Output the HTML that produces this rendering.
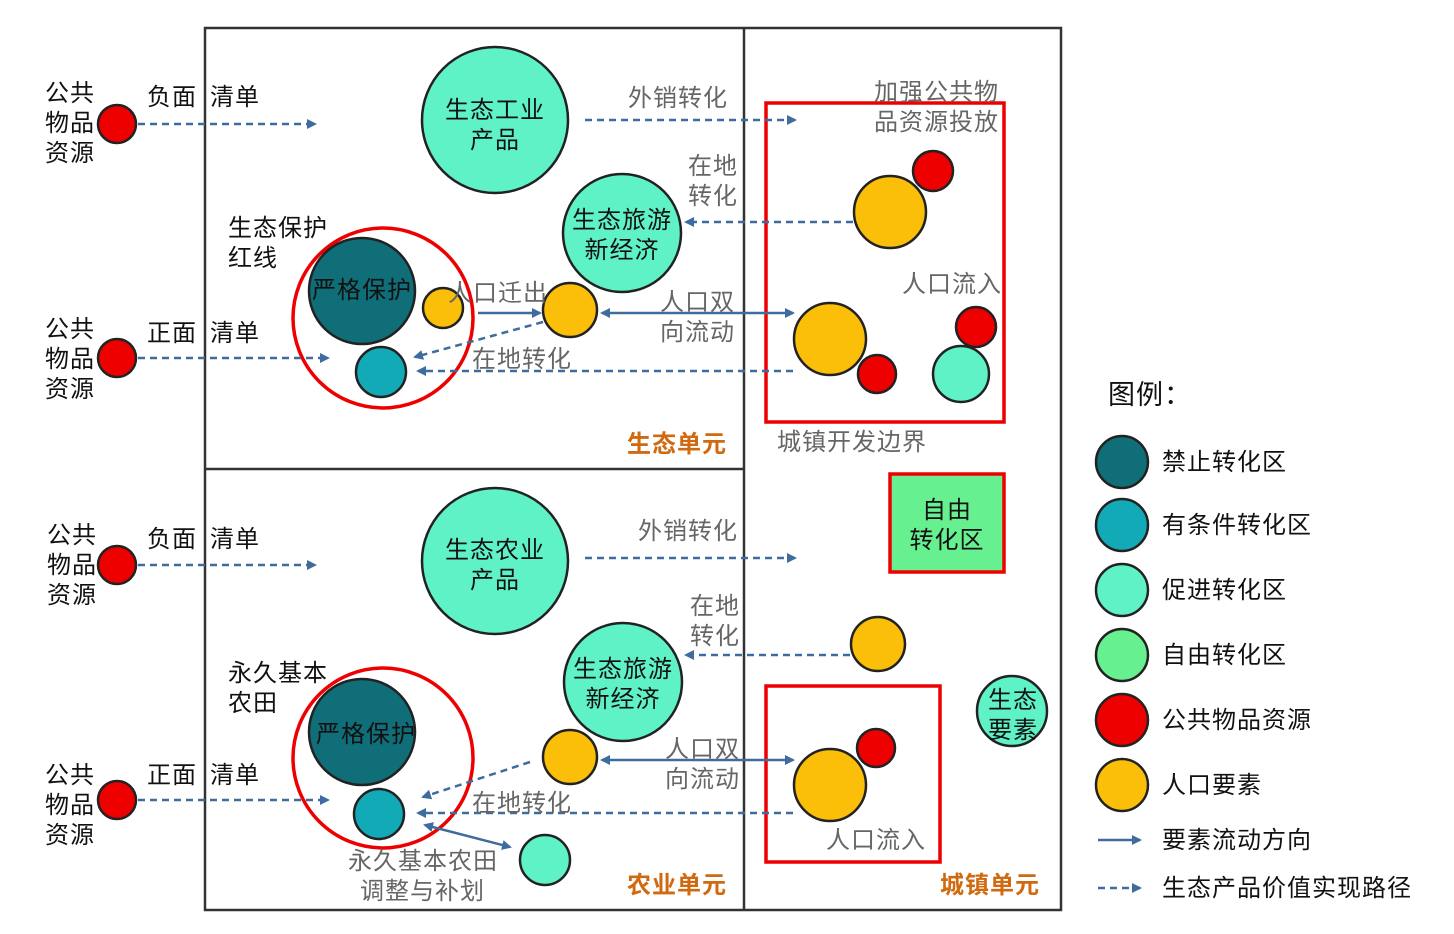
<!DOCTYPE html>
<html><head><meta charset="utf-8"><style>
body{margin:0;background:#fff}
svg{display:block}
text{font-family:"Liberation Sans","Noto Sans CJK SC",sans-serif;font-size:24px;letter-spacing:1px}
</style></head><body>
<svg width="1454" height="934" viewBox="0 0 1454 934">
<defs>
<marker id="a" markerWidth="10" markerHeight="10" refX="8" refY="5" orient="auto" markerUnits="userSpaceOnUse"><path d="M0,0 L10,5 L0,10 z" fill="#3f6c9e"/></marker>
<marker id="b" markerWidth="10" markerHeight="10" refX="2" refY="5" orient="auto" markerUnits="userSpaceOnUse"><path d="M10,0 L0,5 L10,10 z" fill="#3f6c9e"/></marker>
</defs>
<g fill="none" stroke="#333" stroke-width="2.5">
<rect x="205" y="28" width="856" height="882"/>
<line x1="744" y1="28" x2="744" y2="910"/>
<line x1="205" y1="469" x2="744" y2="469"/>
</g>
<g fill="none" stroke="#ee0000" stroke-width="3.5">
<rect x="766" y="103" width="238" height="319"/>
<rect x="766" y="686" width="174" height="176"/>
<circle cx="383" cy="318" r="90"/>
<circle cx="383" cy="758" r="90"/>
</g>
<rect x="890" y="474" width="114" height="98" fill="#66f08f" stroke="#ee0000" stroke-width="3.5"/>
<g stroke="#222" stroke-width="2.5">
<circle cx="495" cy="120" r="73" fill="#5ef2c6"/>
<circle cx="622" cy="233" r="59" fill="#5ef2c6"/>
<circle cx="362" cy="291" r="53" fill="#0f6e78"/>
<circle cx="443" cy="308" r="20" fill="#fbbf0a"/>
<circle cx="570" cy="310" r="27" fill="#fbbf0a"/>
<circle cx="381" cy="372" r="25" fill="#13aab8"/>
<circle cx="890" cy="212" r="36" fill="#fbbf0a"/>
<circle cx="933" cy="171" r="20" fill="#ee0000"/>
<circle cx="830" cy="339" r="36" fill="#fbbf0a"/>
<circle cx="877" cy="374" r="19" fill="#ee0000"/>
<circle cx="976" cy="327" r="20" fill="#ee0000"/>
<circle cx="961" cy="374" r="28" fill="#5ef2c6"/>
<circle cx="495" cy="561" r="73" fill="#5ef2c6"/>
<circle cx="623" cy="682" r="59" fill="#5ef2c6"/>
<circle cx="362" cy="732" r="53" fill="#0f6e78"/>
<circle cx="570" cy="757" r="27" fill="#fbbf0a"/>
<circle cx="379" cy="814" r="25" fill="#13aab8"/>
<circle cx="545" cy="860" r="25" fill="#5ef2c6"/>
<circle cx="878" cy="644" r="27" fill="#fbbf0a"/>
<circle cx="1012" cy="711" r="35" fill="#5ef2c6"/>
<circle cx="830" cy="785" r="36" fill="#fbbf0a"/>
<circle cx="876" cy="748" r="19" fill="#ee0000"/>
<circle cx="117" cy="124" r="19" fill="#ee0000"/>
<circle cx="117" cy="358" r="19" fill="#ee0000"/>
<circle cx="117" cy="565" r="19" fill="#ee0000"/>
<circle cx="117" cy="800" r="19" fill="#ee0000"/>
<circle cx="1122" cy="462" r="26" fill="#0f6e78"/>
<circle cx="1122" cy="525" r="26" fill="#13aab8"/>
<circle cx="1122" cy="590" r="26" fill="#5ef2c6"/>
<circle cx="1122" cy="655" r="26" fill="#66f08f"/>
<circle cx="1122" cy="720" r="26" fill="#ee0000"/>
<circle cx="1122" cy="785" r="26" fill="#fbbf0a"/>
</g>
<g stroke="#3f6c9e" stroke-width="2.5" fill="none">
<g stroke-dasharray="7,5" marker-end="url(#a)">
<line x1="138" y1="124" x2="315" y2="124"/>
<line x1="138" y1="358" x2="328" y2="358"/>
<line x1="138" y1="565" x2="315" y2="565"/>
<line x1="138" y1="800" x2="328" y2="800"/>
<line x1="585" y1="120" x2="795" y2="120"/>
<line x1="853" y1="222" x2="686" y2="222"/>
<line x1="543" y1="322" x2="415" y2="357"/>
<line x1="793" y1="371" x2="418" y2="371"/>
<line x1="585" y1="558" x2="795" y2="558"/>
<line x1="850" y1="655" x2="686" y2="655"/>
<line x1="530" y1="762" x2="423" y2="797"/>
<line x1="793" y1="813" x2="418" y2="813"/>
<line x1="1098" y1="888" x2="1140" y2="888"/>
</g>
<line x1="478" y1="313" x2="540" y2="313" marker-end="url(#a)"/>
<line x1="602" y1="313" x2="793" y2="313" marker-start="url(#b)" marker-end="url(#a)"/>
<line x1="602" y1="760" x2="793" y2="760" marker-start="url(#b)" marker-end="url(#a)"/>
<line x1="425" y1="825" x2="510" y2="847" marker-start="url(#b)" marker-end="url(#a)"/>
<line x1="1098" y1="840" x2="1140" y2="840" marker-end="url(#a)"/>
</g>
<g fill="#111">
<text x="45" y="101">公共</text><text x="45" y="131">物品</text><text x="45" y="161">资源</text>
<text x="45" y="337">公共</text><text x="45" y="367">物品</text><text x="45" y="397">资源</text>
<text x="47" y="543">公共</text><text x="47" y="573">物品</text><text x="47" y="603">资源</text>
<text x="45" y="783">公共</text><text x="45" y="813">物品</text><text x="45" y="843">资源</text>
<text x="147" y="105">负面</text><text x="210" y="105">清单</text>
<text x="147" y="341">正面</text><text x="210" y="341">清单</text>
<text x="147" y="547">负面</text><text x="210" y="547">清单</text>
<text x="147" y="783">正面</text><text x="210" y="783">清单</text>
<text x="228" y="236">生态保护</text><text x="228" y="266">红线</text>
<text x="228" y="681">永久基本</text><text x="228" y="711">农田</text>
<text x="495" y="118" text-anchor="middle">生态工业</text><text x="495" y="148" text-anchor="middle">产品</text>
<text x="622" y="228" text-anchor="middle">生态旅游</text><text x="622" y="258" text-anchor="middle">新经济</text>
<text x="495" y="558" text-anchor="middle">生态农业</text><text x="495" y="588" text-anchor="middle">产品</text>
<text x="623" y="677" text-anchor="middle">生态旅游</text><text x="623" y="707" text-anchor="middle">新经济</text>
<text x="362" y="298" text-anchor="middle">严格保护</text>
<text x="366" y="742" text-anchor="middle">严格保护</text>
<text x="947" y="518" text-anchor="middle">自由</text><text x="947" y="548" text-anchor="middle">转化区</text>
<text x="1013" y="708" text-anchor="middle">生态</text><text x="1013" y="738" text-anchor="middle">要素</text>
</g>
<g fill="#666">
<text x="628" y="106">外销转化</text>
<text x="638" y="539">外销转化</text>
<text x="688" y="174">在地</text><text x="688" y="204">转化</text>
<text x="690" y="614">在地</text><text x="690" y="644">转化</text>
<text x="874" y="100">加强公共物</text><text x="874" y="130">品资源投放</text>
<text x="902" y="292">人口流入</text>
<text x="826" y="848">人口流入</text>
<text x="448" y="301">人口迁出</text>
<text x="660" y="310">人口双</text><text x="660" y="340">向流动</text>
<text x="665" y="757">人口双</text><text x="665" y="787">向流动</text>
<text x="472" y="367">在地转化</text>
<text x="472" y="811">在地转化</text>
<text x="777" y="450">城镇开发边界</text>
<text x="348" y="869">永久基本农田</text><text x="360" y="899">调整与补划</text>
</g>
<g fill="#d06a10" font-weight="bold">
<text x="627" y="452">生态单元</text>
<text x="627" y="893">农业单元</text>
<text x="940" y="893">城镇单元</text>
</g>
<g fill="#111">
<text x="1108" y="404" style="font-size:27px">图例：</text>
<text x="1162" y="470">禁止转化区</text>
<text x="1162" y="533">有条件转化区</text>
<text x="1162" y="598">促进转化区</text>
<text x="1162" y="663">自由转化区</text>
<text x="1162" y="728">公共物品资源</text>
<text x="1162" y="793">人口要素</text>
<text x="1162" y="848">要素流动方向</text>
<text x="1162" y="896">生态产品价值实现路径</text>
</g>
</svg>
</body></html>
